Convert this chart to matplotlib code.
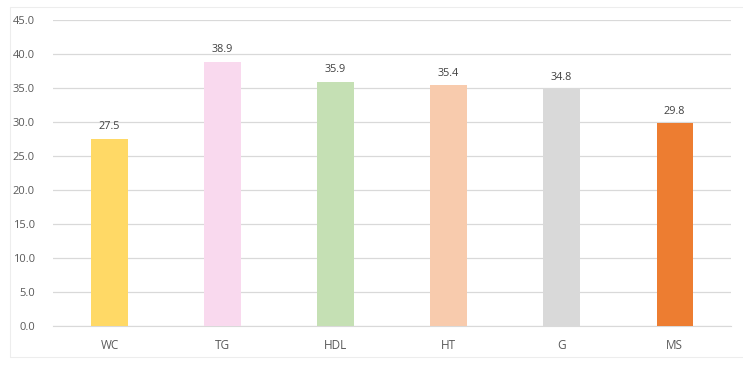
import matplotlib.pyplot as plt
from matplotlib.patches import Rectangle

categorias = ["WC", "TG", "HDL", "HT", "G", "MS"]
valores = [27.5, 38.9, 35.9, 35.4, 34.8, 29.8]
cores = ["#FFD966", "#F9D9EE", "#C5E0B4", "#F8CBAD", "#D9D9D9", "#ED7D31"]
ticks_y = [0, 5, 10, 15, 20, 25, 30, 35, 40, 45]

fig = plt.figure(figsize=(7.43, 3.65), dpi=100)
ax = fig.add_axes([0.0713, 0.1068, 0.9127, 0.8382])

# moldura clara do grafico (estilo Excel)
fig.add_artist(Rectangle((10 / 743, 8 / 365), 740 / 743, 350 / 365,
                         transform=fig.transFigure, fill=False,
                         edgecolor="#EDEDED", linewidth=0.8))

x = range(len(categorias))
barras = ax.bar(x, valores, width=0.32, color=cores, zorder=3)

for b, v in zip(barras, valores):
    ax.text(b.get_x() + b.get_width() / 2, v + 1.0, f"{v:.1f}",
            ha="center", va="bottom", fontsize=7.8, color="#404040",
            family="Open Sans")

ax.set_xlim(-0.5, len(categorias) - 0.5)
ax.set_ylim(0, 45)
ax.set_yticks(ticks_y)
ax.set_yticklabels([f"{t:.1f}" for t in ticks_y], family="Open Sans",
                   fontsize=8, color="#595959")
ax.set_xticks(list(x))
ax.set_xticklabels(categorias, family="Open Sans", fontsize=8.5, color="#595959")
ax.tick_params(axis="both", length=0)
ax.tick_params(axis="y", pad=13)
ax.tick_params(axis="x", pad=9)

ax.grid(axis="y", color="#D9D9D9", linewidth=0.9, zorder=0)
for lado in ["top", "right", "left"]:
    ax.spines[lado].set_visible(False)
ax.spines["bottom"].set_color("#D9D9D9")

fig.savefig("out.png", dpi=100)
